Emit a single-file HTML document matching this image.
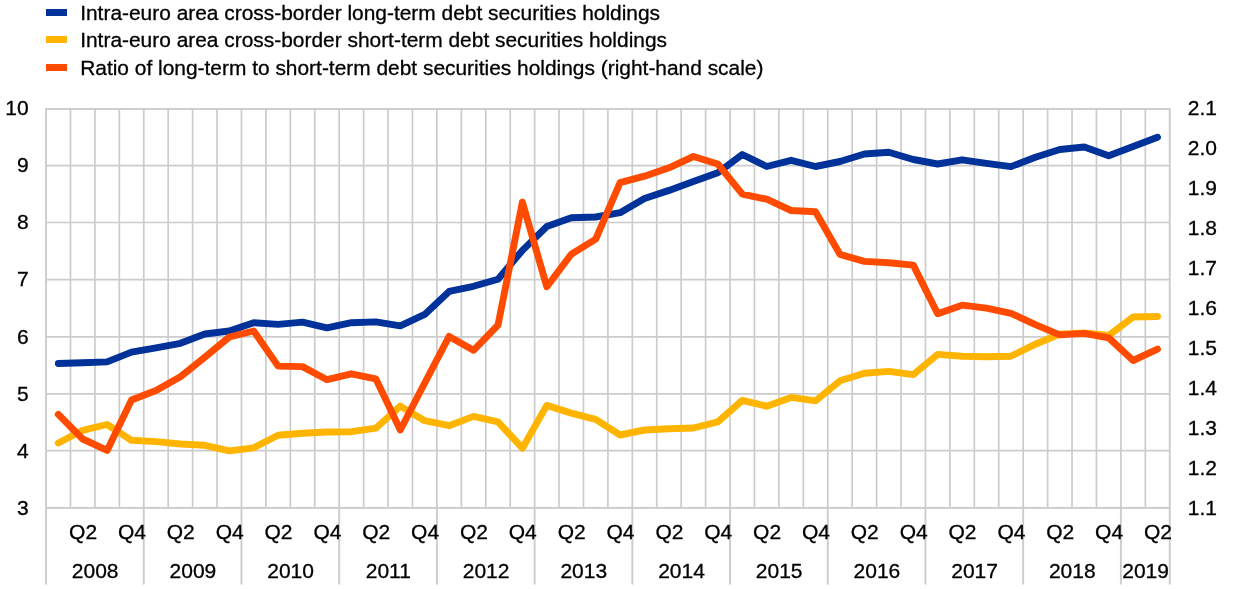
<!DOCTYPE html>
<html><head><meta charset="utf-8"><title>Chart</title>
<style>html,body{margin:0;padding:0;background:#fff}svg{display:block}text{font-family:"Liberation Sans",Arial,sans-serif;font-size:21px;fill:#000;stroke:#000;stroke-width:0.3px}</style></head><body>
<svg width="1240" height="589" viewBox="0 0 1240 589">
<rect width="1240" height="589" fill="#fff"/>
<path d="M70.48 108.95V507.9M94.91 108.95V507.9M119.33 108.95V507.9M143.76 108.95V507.9M168.19 108.95V507.9M192.62 108.95V507.9M217.05 108.95V507.9M241.48 108.95V507.9M265.90 108.95V507.9M290.33 108.95V507.9M314.76 108.95V507.9M339.19 108.95V507.9M363.62 108.95V507.9M388.05 108.95V507.9M412.47 108.95V507.9M436.90 108.95V507.9M461.33 108.95V507.9M485.76 108.95V507.9M510.19 108.95V507.9M534.62 108.95V507.9M559.04 108.95V507.9M583.47 108.95V507.9M607.90 108.95V507.9M632.33 108.95V507.9M656.76 108.95V507.9M681.18 108.95V507.9M705.61 108.95V507.9M730.04 108.95V507.9M754.47 108.95V507.9M778.90 108.95V507.9M803.33 108.95V507.9M827.75 108.95V507.9M852.18 108.95V507.9M876.61 108.95V507.9M901.04 108.95V507.9M925.47 108.95V507.9M949.90 108.95V507.9M974.32 108.95V507.9M998.75 108.95V507.9M1023.18 108.95V507.9M1047.61 108.95V507.9M1072.04 108.95V507.9M1096.47 108.95V507.9M1120.89 108.95V507.9M1145.32 108.95V507.9M46.05 165.60H1169.75M46.05 222.50H1169.75M46.05 279.70H1169.75M46.05 336.80H1169.75M46.05 393.95H1169.75M46.05 450.70H1169.75" stroke="#cccccc" stroke-width="1.7" fill="none"/>
<rect x="46.05" y="108.95" width="1123.70" height="398.95" fill="none" stroke="#cccccc" stroke-width="1.9"/>
<path d="M46.05 507.9V584.6M143.76 507.9V584.6M241.48 507.9V584.6M339.19 507.9V584.6M436.90 507.9V584.6M534.62 507.9V584.6M632.33 507.9V584.6M730.04 507.9V584.6M827.75 507.9V584.6M925.47 507.9V584.6M1023.18 507.9V584.6M1120.89 507.9V584.6M1169.75 507.9V584.6" stroke="#cccccc" stroke-width="1.9" fill="none"/>
<polyline points="58.3,363.5 82.7,362.7 107.1,361.9 131.5,352.1 156.0,347.8 180.4,343.3 204.8,334.0 229.3,331.0 253.7,322.7 278.1,324.4 302.5,322.1 327.0,327.8 351.4,322.7 375.8,321.9 400.3,325.9 424.7,314.4 449.1,291.4 473.5,286.3 498.0,279.3 522.4,250.4 546.8,226.5 571.3,217.7 595.7,217.0 620.1,212.7 644.5,198.5 669.0,190.4 693.4,181.6 717.8,172.8 742.3,154.5 766.7,166.5 791.1,160.3 815.5,166.5 840.0,161.5 864.4,154.0 888.8,152.2 913.3,159.5 937.7,164.0 962.1,159.8 986.5,163.3 1011.0,166.6 1035.4,157.3 1059.8,149.5 1084.3,147.0 1108.7,155.8 1133.1,146.5 1157.5,137.2" fill="none" stroke="#003299" stroke-width="6.9" stroke-linejoin="round" stroke-linecap="round"/>
<polyline points="58.3,443.0 82.7,430.3 107.1,424.5 131.5,440.3 156.0,441.6 180.4,444.0 204.8,445.3 229.3,450.9 253.7,447.8 278.1,435.3 302.5,433.3 327.0,432.0 351.4,431.7 375.8,428.2 400.3,406.1 424.7,420.7 449.1,425.7 473.5,416.4 498.0,421.9 522.4,448.2 546.8,405.4 571.3,413.1 595.7,419.4 620.1,435.0 644.5,430.0 669.0,428.8 693.4,428.0 717.8,421.8 742.3,400.4 766.7,406.2 791.1,397.4 815.5,400.9 840.0,380.8 864.4,373.3 888.8,371.4 913.3,374.6 937.7,354.4 962.1,356.2 986.5,356.7 1011.0,356.2 1035.4,344.2 1059.8,334.1 1084.3,332.9 1108.7,335.4 1133.1,317.0 1157.5,316.5" fill="none" stroke="#ffb400" stroke-width="6.9" stroke-linejoin="round" stroke-linecap="round"/>
<polyline points="58.3,414.4 82.7,439.0 107.1,450.4 131.5,400.0 156.0,390.5 180.4,376.7 204.8,357.3 229.3,337.0 253.7,331.0 278.1,366.1 302.5,366.6 327.0,379.7 351.4,373.8 375.8,378.8 400.3,430.0 424.7,383.0 449.1,336.4 473.5,350.3 498.0,325.2 522.4,202.2 546.8,286.8 571.3,254.2 595.7,239.1 620.1,182.6 644.5,176.2 669.0,167.8 693.4,156.5 717.8,164.0 742.3,194.2 766.7,199.2 791.1,210.5 815.5,211.8 840.0,254.4 864.4,261.4 888.8,262.7 913.3,265.1 937.7,313.8 962.1,305.2 986.5,308.2 1011.0,313.3 1035.4,324.6 1059.8,334.9 1084.3,333.4 1108.7,337.9 1133.1,360.5 1157.5,349.2" fill="none" stroke="#ff4b00" stroke-width="6.9" stroke-linejoin="round" stroke-linecap="round"/>
<text x="28.6" y="115" text-anchor="end">10</text>
<text x="28.6" y="172" text-anchor="end">9</text>
<text x="28.6" y="229" text-anchor="end">8</text>
<text x="28.6" y="286" text-anchor="end">7</text>
<text x="28.6" y="344" text-anchor="end">6</text>
<text x="28.6" y="401" text-anchor="end">5</text>
<text x="28.6" y="458" text-anchor="end">4</text>
<text x="28.6" y="515" text-anchor="end">3</text>
<text x="1187.8" y="115">2.1</text>
<text x="1187.8" y="155">2.0</text>
<text x="1187.8" y="195">1.9</text>
<text x="1187.8" y="235">1.8</text>
<text x="1187.8" y="275">1.7</text>
<text x="1187.8" y="315">1.6</text>
<text x="1187.8" y="355">1.5</text>
<text x="1187.8" y="395">1.4</text>
<text x="1187.8" y="435">1.3</text>
<text x="1187.8" y="475">1.2</text>
<text x="1187.8" y="515">1.1</text>
<text x="83.1" y="539" text-anchor="middle">Q2</text>
<text x="131.9" y="539" text-anchor="middle">Q4</text>
<text x="180.8" y="539" text-anchor="middle">Q2</text>
<text x="229.7" y="539" text-anchor="middle">Q4</text>
<text x="278.5" y="539" text-anchor="middle">Q2</text>
<text x="327.4" y="539" text-anchor="middle">Q4</text>
<text x="376.2" y="539" text-anchor="middle">Q2</text>
<text x="425.1" y="539" text-anchor="middle">Q4</text>
<text x="473.9" y="539" text-anchor="middle">Q2</text>
<text x="522.8" y="539" text-anchor="middle">Q4</text>
<text x="571.7" y="539" text-anchor="middle">Q2</text>
<text x="620.5" y="539" text-anchor="middle">Q4</text>
<text x="669.4" y="539" text-anchor="middle">Q2</text>
<text x="718.2" y="539" text-anchor="middle">Q4</text>
<text x="767.1" y="539" text-anchor="middle">Q2</text>
<text x="815.9" y="539" text-anchor="middle">Q4</text>
<text x="864.8" y="539" text-anchor="middle">Q2</text>
<text x="913.7" y="539" text-anchor="middle">Q4</text>
<text x="962.5" y="539" text-anchor="middle">Q2</text>
<text x="1011.4" y="539" text-anchor="middle">Q4</text>
<text x="1060.2" y="539" text-anchor="middle">Q2</text>
<text x="1109.1" y="539" text-anchor="middle">Q4</text>
<text x="1157.9" y="539" text-anchor="middle">Q2</text>
<text x="95.2" y="578" text-anchor="middle">2008</text>
<text x="192.9" y="578" text-anchor="middle">2009</text>
<text x="290.6" y="578" text-anchor="middle">2010</text>
<text x="388.3" y="578" text-anchor="middle">2011</text>
<text x="486.1" y="578" text-anchor="middle">2012</text>
<text x="583.8" y="578" text-anchor="middle">2013</text>
<text x="681.5" y="578" text-anchor="middle">2014</text>
<text x="779.2" y="578" text-anchor="middle">2015</text>
<text x="876.9" y="578" text-anchor="middle">2016</text>
<text x="974.6" y="578" text-anchor="middle">2017</text>
<text x="1072.3" y="578" text-anchor="middle">2018</text>
<text x="1145.6" y="578" text-anchor="middle">2019</text>
<rect x="46" y="9.0" width="21" height="7" fill="#003299"/>
<text x="80.2" y="20" style="font-size:20.92px">Intra-euro area cross-border long-term debt securities holdings</text>
<rect x="46" y="36.0" width="21" height="7" fill="#ffb400"/>
<text x="80.2" y="47" style="font-size:20.92px">Intra-euro area cross-border short-term debt securities holdings</text>
<rect x="46" y="64.0" width="21" height="7" fill="#ff4b00"/>
<text x="80.2" y="75" style="font-size:20.92px">Ratio of long-term to short-term debt securities holdings (right-hand scale)</text>
</svg></body></html>
